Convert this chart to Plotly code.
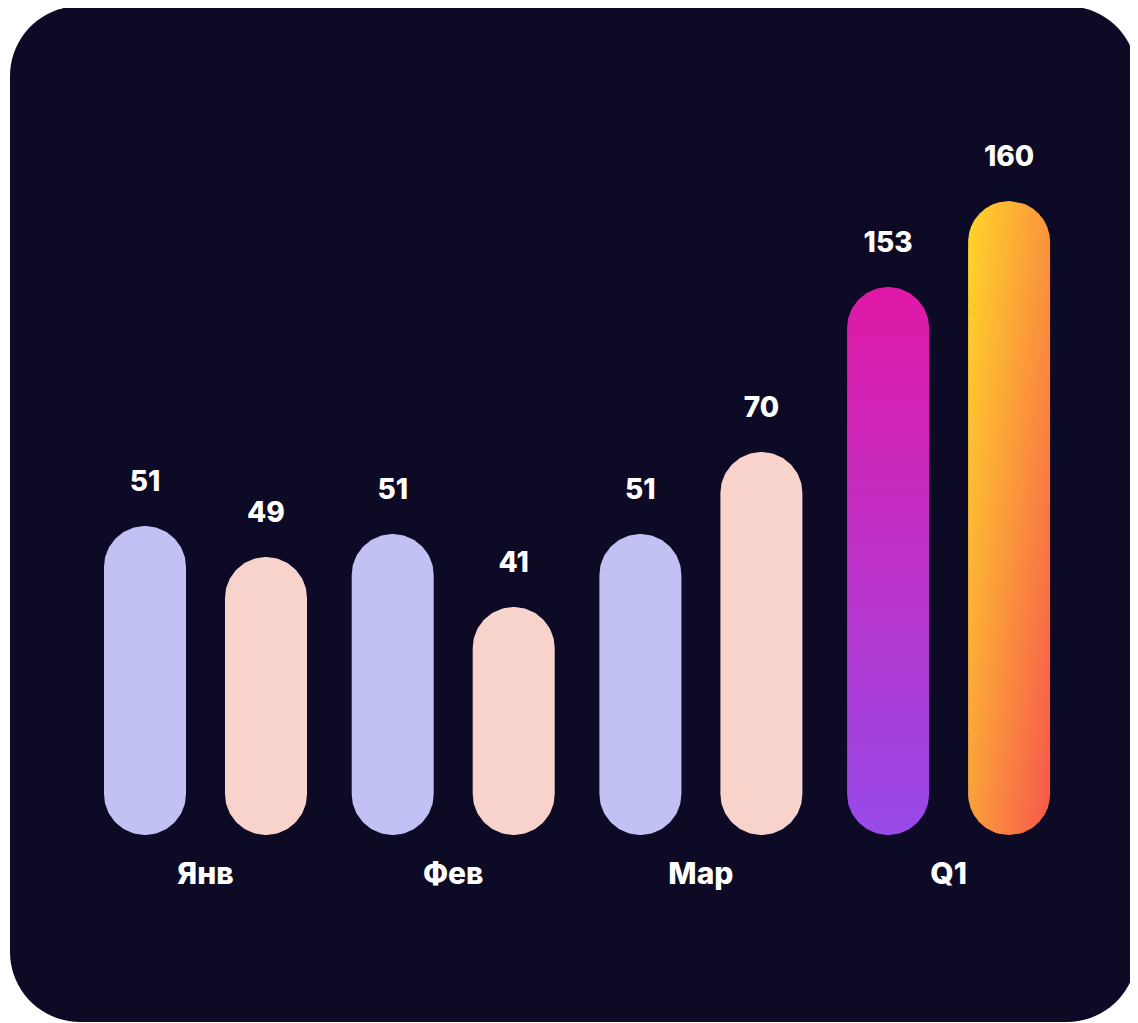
import numpy as np
import plotly.graph_objects as go

# ---- data ----
categories = ["Янв", "Фев", "Мар", "Q1"]
value_labels = [51, 49, 51, 41, 51, 70, 153, 160]          # printed numbers
bar_lengths = [309, 278, 301, 228, 301, 383, 548, 634]     # drawn bar lengths
bar_group = [0, 0, 1, 1, 2, 2, 3, 3]
bar_side = [-1, 1, -1, 1, -1, 1, -1, 1]

# ---- styling ----
PAGE = 8                   # default page body margin of the html
W, H = 1138 - PAGE, 1023 - PAGE
BG = "#0d0a25"
LAV = "#c2c1f4"
PINK = "#f7d3cc"
FONT = "Inter"

PX_PER_X = 247.7          # pixels per group step
X0_PX = 205.5 - PAGE      # pixel of group 0 centre
BASE_PX = 835 - PAGE      # pixel row of bar bottoms
OFFSET = 60.5 / PX_PER_X
RX = 41 / PX_PER_X
RY = 41.0

xrange_ = [-X0_PX / PX_PER_X, (W - X0_PX) / PX_PER_X]
yrange_ = [-(H - BASE_PX), BASE_PX]


def stadium(cx, h, n=60):
    t1 = np.linspace(0, np.pi, n)
    t2 = np.linspace(np.pi, 2 * np.pi, n)
    xs = np.concatenate([cx + RX * np.cos(t1), cx + RX * np.cos(t2)])
    ys = np.concatenate([h - RY + RY * np.sin(t1), RY + RY * np.sin(t2)])
    return np.append(xs, xs[0]), np.append(ys, ys[0])


def halfwidth(y, h):
    if y > h - RY:
        d = (y - (h - RY)) / RY
        return RX * np.sqrt(max(0.0, 1 - d * d))
    if y < RY:
        d = (RY - y) / RY
        return RX * np.sqrt(max(0.0, 1 - d * d))
    return RX


def hex2rgb(c):
    c = c.lstrip("#")
    return np.array([int(c[i:i + 2], 16) for i in (0, 2, 4)], dtype=float)


def mix(a, b, t):
    v = a + (b - a) * t
    return "rgb(%d,%d,%d)" % tuple(np.round(v))


fig = go.Figure()

centers = [g + s * OFFSET for g, s in zip(bar_group, bar_side)]

for i, (cx, h) in enumerate(zip(centers, bar_lengths)):
    if i < 6:
        xs, ys = stadium(cx, h)
        fig.add_trace(go.Scatter(x=xs, y=ys, mode="lines", fill="toself",
                                 fillcolor=LAV if bar_side[i] < 0 else PINK,
                                 line=dict(width=0), hoverinfo="skip", showlegend=False))
    elif i == 6:
        xs, ys = stadium(cx, h)
        fig.add_trace(go.Scatter(x=xs, y=ys, mode="lines", fill="toself",
                                 line=dict(width=0), hoverinfo="skip", showlegend=False,
                                 fillgradient=dict(type="vertical",
                                                   colorscale=[[0, "#984ae9"], [1, "#e018a6"]],
                                                   start=0, stop=h)))
    else:
        tl, tr = hex2rgb("#fed62a"), hex2rgb("#fb953b")
        bl, br = hex2rgb("#fb9f3b"), hex2rgb("#f7564c")
        nsl = 48
        edges = np.linspace(0, h, nsl + 1)
        for k in range(nsl):
            y0, y1 = edges[k], min(h, edges[k + 1] + 1.2)
            yy = np.linspace(y0, y1, 12)
            hw = np.array([halfwidth(v, h) for v in yy])
            px = np.concatenate([cx - hw, (cx + hw)[::-1]])
            py = np.concatenate([yy, yy[::-1]])
            tmid = 1 - (y0 + y1) / 2 / h   # 0 top -> 1 bottom
            lc = mix(tl, bl, tmid)
            rc = mix(tr, br, tmid)
            fig.add_trace(go.Scatter(x=np.append(px, px[0]), y=np.append(py, py[0]),
                                     mode="lines", fill="toself", line=dict(width=0),
                                     hoverinfo="skip", showlegend=False,
                                     fillgradient=dict(type="horizontal",
                                                       colorscale=[[0, lc], [1, rc]],
                                                       start=cx - RX, stop=cx + RX)))

# value labels
fig.add_trace(go.Scatter(x=centers, y=[h + 42 for h in bar_lengths], mode="text",
                         text=[str(v) for v in value_labels], textposition="middle center",
                         textfont=dict(family=FONT, size=28, color="white", weight=800),
                         hoverinfo="skip", showlegend=False))
# category labels
fig.add_trace(go.Scatter(x=list(range(len(categories))), y=[-41] * len(categories), mode="text",
                         text=categories, textposition="middle center",
                         textfont=dict(family=FONT, size=30, color="white", weight=800),
                         hoverinfo="skip", showlegend=False))

# rounded dark panel
L, T, R, B, RAD = 10 - PAGE, 6 - PAGE, 1137 - PAGE, 1022 - PAGE, 70
pts = []
for (cx0, cy0, a0) in [(R - RAD, T + RAD, -90), (R - RAD, B - RAD, 0), (L + RAD, B - RAD, 90), (L + RAD, T + RAD, 180)]:
    for a in np.linspace(a0, a0 + 90, 20):
        r = np.radians(a)
        pts.append((cx0 + RAD * np.cos(r), cy0 + RAD * np.sin(r)))
path = "M " + " L ".join("%.5f,%.5f" % (x / W, 1 - y / H) for x, y in pts) + " Z"
fig.add_shape(type="path", path=path, xref="paper", yref="paper",
              fillcolor=BG, line=dict(width=0), layer="below")

fig.update_layout(
    width=W, height=H, margin=dict(l=0, r=0, t=0, b=0),
    paper_bgcolor="white", plot_bgcolor="rgba(0,0,0,0)",
    xaxis=dict(range=xrange_, visible=False, fixedrange=True),
    yaxis=dict(range=yrange_, visible=False, fixedrange=True),
    showlegend=False,
)

fig.write_html("out.html")
